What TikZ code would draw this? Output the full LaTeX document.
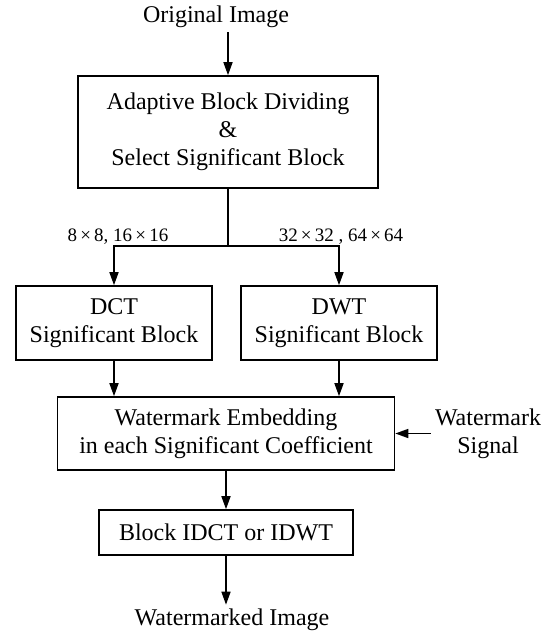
\documentclass[tikz,border=0pt]{standalone}
\usepackage{fontspec}
\setmainfont{Liberation Serif}
\usepackage{tikz}
\usetikzlibrary{arrows.meta, positioning}

\begin{document}
\begin{tikzpicture}[
  x=0.5pt, y=-0.5pt,
  box/.style={draw, thick, align=center, font=\fontsize{12}{14}\selectfont,
              inner sep=2pt},
  txt/.style={align=center, font=\fontsize{12}{14}\selectfont, inner sep=2pt},
  size/.style={font=\fontsize{9.5}{11}\selectfont, inner sep=1pt},
  arr/.style={-{Triangle[length=6.5pt, width=4.5pt]}, thick}
]
\useasboundingbox (0,0) rectangle (552,636);

\node[txt] (orig) at (216,17) {Original Image};
\node[box, minimum width=150pt, minimum height=56pt] (adapt) at (228,132)
  {Adaptive Block Dividing\\\&\\Select Significant Block};
\node[box, minimum width=98pt, minimum height=37pt] (dct) at (114,323)
  {DCT\\Significant Block};
\node[box, minimum width=98pt, minimum height=37pt] (dwt) at (339,323)
  {DWT\\Significant Block};
\node[box, minimum width=168.5pt, minimum height=36.5pt] (embed) at (226,433.5)
  {Watermark Embedding\\in each Significant Coefficient};
\node[box, minimum width=127pt, minimum height=22.5pt] (idct) at (226,532.5)
  {Block IDCT or IDWT};
\node[txt] (out) at (232,620) {Watermarked Image};
\node[txt] (sig) at (488,434) {Watermark\\Signal};

\coordinate (split) at (228,246);
\node[size] (small) at (118,237) {8\,×\,8, 16\,×\,16};
\node[size] (large) at (341,237) {32\,×\,32 , 64\,×\,64};

\draw[arr] (adapt.north |- orig.south) -- (adapt.north);
\draw[thick] (adapt.south) -- (split);
\draw[arr] (split) -| (dct.north);
\draw[arr] (split) -| (dwt.north);
\draw[arr] (dct.south) -- (dct.south |- embed.north);
\draw[arr] (dwt.south) -- (dwt.south |- embed.north);
\draw[arr] (sig.west |- embed.east) -- (embed.east);
\draw[arr] (embed.south) -- (idct.north);
\draw[arr] (idct.south) -- (idct.south |- out.north);
\end{tikzpicture}
\end{document}
